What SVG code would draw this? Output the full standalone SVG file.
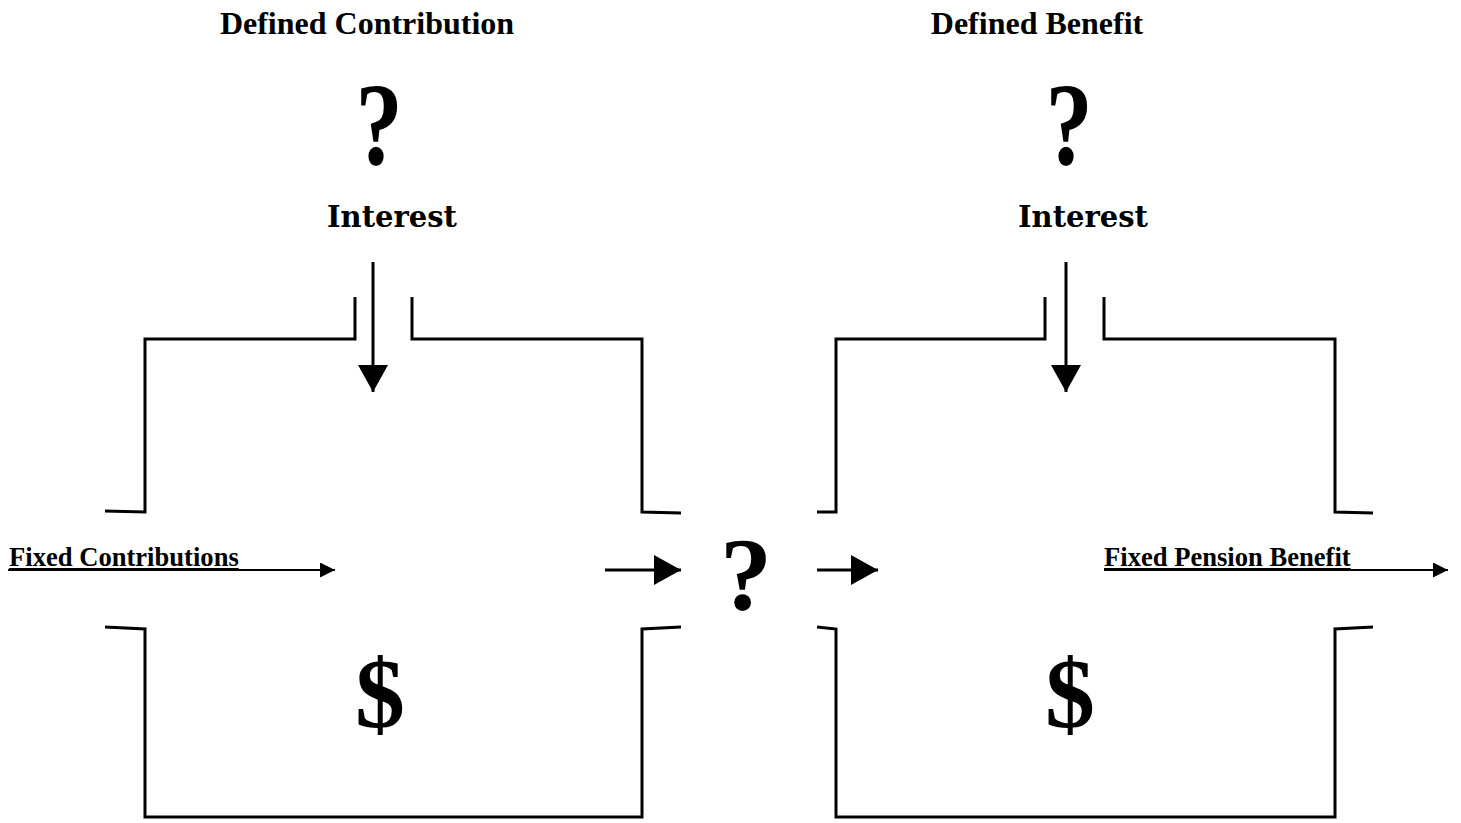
<svg xmlns="http://www.w3.org/2000/svg" width="1461" height="823" viewBox="0 0 1461 823">
<style>
.w{fill:none;stroke:#000;stroke-width:3;stroke-linejoin:miter}
.c{stroke:#000;stroke-width:3;fill:none}
.t{font-family:"Liberation Serif",serif;font-weight:bold;fill:#000}
.i{font-family:"DejaVu Serif",serif;font-weight:bold;fill:#000}
.u{text-decoration:underline}
</style>
<defs>
<marker id="ah" markerWidth="9" markerHeight="10" refX="9" refY="5" orient="auto" markerUnits="strokeWidth"><path d="M0,0 L9,5 L0,10 Z" fill="#000"/></marker>
<marker id="as" markerWidth="7.5" markerHeight="7.5" refX="7.5" refY="3.75" orient="auto" markerUnits="strokeWidth"><path d="M0,0 L7.5,3.75 L0,7.5 Z" fill="#000"/></marker>
</defs>
<rect width="1461" height="823" fill="#fff"/>
<g id="dc-title"><text class="t" x="367" y="34" font-size="32" text-anchor="middle">Defined Contribution</text></g>
<g id="db-title"><text class="t" x="1037" y="34" font-size="32" text-anchor="middle">Defined Benefit</text></g>
<g id="dc-interest">
<text class="t" font-size="118" text-anchor="middle" transform="translate(379,164) scale(0.8,1)">?</text>
<text class="i" x="392" y="227" font-size="29" text-anchor="middle">Interest</text>
</g>
<g id="db-interest">
<text class="t" font-size="118" text-anchor="middle" transform="translate(1069,164) scale(0.8,1)">?</text>
<text class="i" x="1083" y="227" font-size="29" text-anchor="middle">Interest</text>
</g>
<g id="dc-box">
<path class="w" d="M105,511 L145,512 L145,339 L355,339 L355,297"/>
<path class="w" d="M412,297 L412,339 L642,339 L642,512 L681,513"/>
<path class="w" d="M105,627 L145,629 L145,817 L642,817 L642,629 L681,627"/>
<text class="t" x="380" y="727" font-size="100" text-anchor="middle">$</text>
</g>
<g id="db-box">
<path class="w" d="M817,512 L836,512 L836,339 L1045,339 L1045,297"/>
<path class="w" d="M1104,297 L1104,339 L1335,339 L1335,512 L1373,513"/>
<path class="w" d="M817,627 L836,629 L836,817 L1335,817 L1335,629 L1373,627"/>
<text class="t" x="1070" y="727" font-size="100" text-anchor="middle">$</text>
</g>
<g id="mid-q"><text class="t" x="746" y="610" font-size="104" text-anchor="middle">?</text></g>
<g id="fc-label"><text class="t u" x="9" y="566" font-size="26.6">Fixed Contributions</text></g>
<g id="fp-label"><text class="t u" x="1104" y="566" font-size="26.6">Fixed Pension Benefit</text></g>
<g id="connectors">
<line class="c" x1="373" y1="262" x2="373" y2="392" marker-end="url(#ah)"/>
<line class="c" x1="1066" y1="262" x2="1066" y2="392" marker-end="url(#ah)"/>
<line class="c" x1="605" y1="570" x2="681" y2="570" marker-end="url(#ah)"/>
<line class="c" x1="817" y1="570" x2="878" y2="570" marker-end="url(#ah)"/>
<line x1="8" y1="570" x2="335" y2="570" stroke="#000" stroke-width="2" marker-end="url(#as)"/>
<line x1="1104" y1="570" x2="1448" y2="570" stroke="#000" stroke-width="2" marker-end="url(#as)"/>
</g>
</svg>
